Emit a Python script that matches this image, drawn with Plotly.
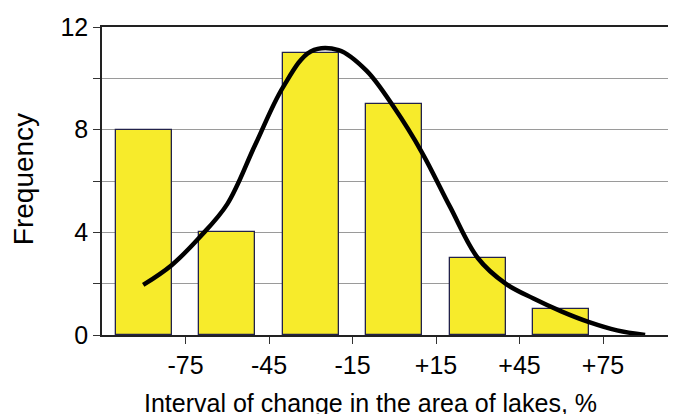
import plotly.graph_objects as go

# Histogram data
bin_centers = [-90, -60, -30, 0, 30, 60]
frequencies = [8, 4, 11, 9, 3, 1]
bin_width = 20

# Fitted curve
curve_x = [-90.2, -80.0, -70.0, -60.0, -50.0, -40.0, -30.0, -20.0, -10.0,
           0.0, 10.0, 20.0, 30.0, 40.0, 50.0, 60.0, 70.0, 80.0, 90.1]
curve_y = [1.95, 2.72, 3.80, 5.10, 7.40, 9.65, 11.05, 11.10, 10.30,
           8.85, 7.10, 5.00, 3.00, 2.00, 1.42, 0.92, 0.50, 0.18, 0.0]

# Axis ticks
x_tickvals = [-75, -45, -15, 15, 45, 75]
x_ticktext = ["-75", "-45", "-15", "+15", "+45", "+75"]
y_tickvals = [0, 2, 4, 6, 8, 10, 12]
y_ticktext = ["0", "", "4", "", "8", "", "12"]

x_title = "Interval of change in the area of lakes, %"
y_title = "Frequency"

FONT = "Liberation Sans, Arial, Helvetica, sans-serif"

fig = go.Figure()
fig.add_trace(go.Bar(
    x=bin_centers, y=frequencies, width=bin_width,
    marker=dict(color="#F7EB2B", line=dict(color="#22224a", width=1.3)),
    showlegend=False, hoverinfo="skip",
))
fig.add_trace(go.Scatter(
    x=curve_x, y=curve_y, mode="lines",
    line=dict(color="black", width=4.5, shape="spline", smoothing=1.0),
    showlegend=False, hoverinfo="skip",
))

fig.update_layout(
    width=676, height=414,
    margin=dict(l=94, r=8, t=19, b=87),
    paper_bgcolor="white", plot_bgcolor="white",
    font=dict(family=FONT, color="black"),
    bargap=0,
)
fig.add_annotation(
    text=x_title, xref="paper", yref="paper", x=0.467, y=-0.169,
    xanchor="center", yanchor="top", showarrow=False,
    font=dict(size=25, family=FONT, color="black"),
)
fig.add_annotation(
    text=y_title, xref="paper", yref="paper", x=-0.1376, y=0.506,
    xanchor="center", yanchor="middle", showarrow=False, textangle=-90,
    font=dict(size=28, family=FONT, color="black"),
)
fig.update_xaxes(
    range=[-105, 101.2], automargin=False,
    tickvals=x_tickvals, ticktext=x_ticktext,
    ticks="outside", ticklen=7, tickwidth=1.2, tickcolor="#333",
    tickfont=dict(size=25, family=FONT),
    showline=True, linecolor="#222", linewidth=1.5, mirror=True,
    showgrid=False, zeroline=False,
)
fig.update_yaxes(
    range=[0, 12], automargin=False,
    tickvals=y_tickvals, ticktext=y_ticktext,
    ticks="outside", ticklen=7, tickwidth=1.2, tickcolor="#333",
    tickfont=dict(size=25, family=FONT),
    showline=True, linecolor="#222", linewidth=1.5,
    showgrid=True, gridcolor="#9a9a9a", gridwidth=1.3,
    zeroline=False,
)

fig.write_html("out.html")
